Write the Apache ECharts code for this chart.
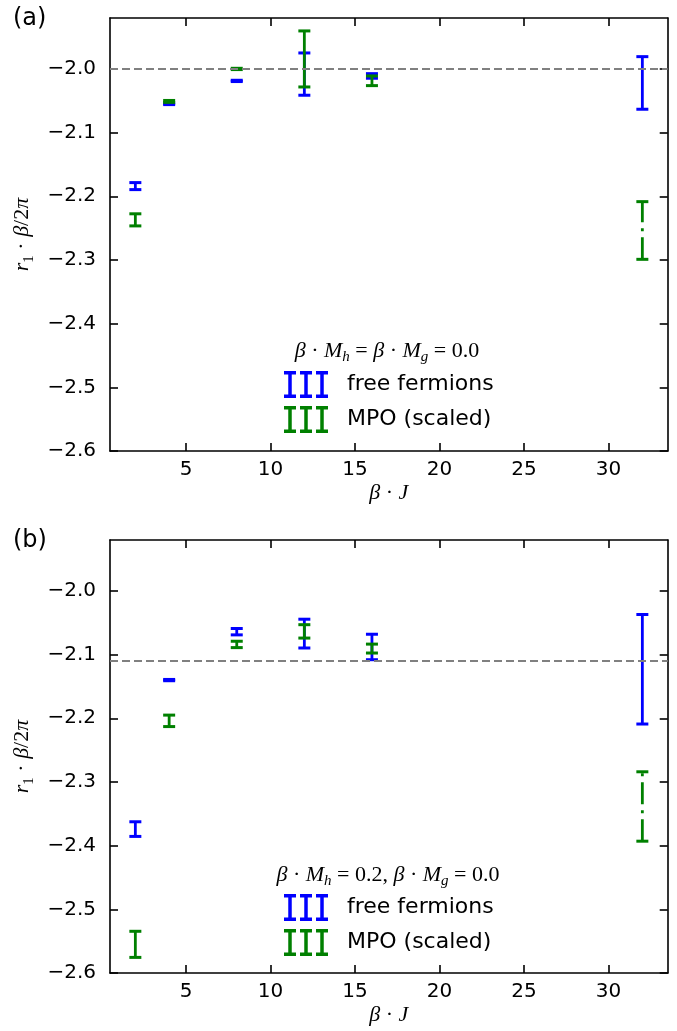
<!DOCTYPE html>
<html>
<head>
<meta charset="utf-8">
<script src="https://cdn.jsdelivr.net/npm/echarts@6/dist/echarts.min.js"></script>
<style>
  html, body { margin: 0; padding: 0; background: #fff; }
  #chart { width: 677px; height: 1031px; }
</style>
</head>
<body>
<div id="chart"></div>
<script>
// β·J values at which the residue was evaluated
const betaJ = [2, 4, 8, 12, 16];
const betaJLong = [32];

// Panel (a): β·M_h = β·M_g = 0.0
const freeA = [-2.184, -2.055, -2.0188, -2.0081, -2.011, -2.022];
const freeAErr = [0.0055, 0.001, 0.001, 0.0332, 0.0036, 0.0413];
const mpoA = [-2.237, -2.051, -2.000, -1.9843, -2.0186];
const mpoAErr = [0.0095, 0.0015, 0.001, 0.044, 0.0076];
const mpoALong = [-2.2537];
const mpoALongErr = [0.0453];
const refA = -2.0;

// Panel (b): β·M_h = 0.2, β·M_g = 0.0
const freeB = [-2.374, -2.140, -2.064, -2.067, -2.088, -2.123];
const freeBErr = [0.0115, 0.001, 0.005, 0.0226, 0.020, 0.086];
const mpoB = [-2.555, -2.204, -2.084, -2.0635, -2.0905];
const mpoBErr = [0.0205, 0.009, 0.005, 0.0105, 0.007];
const mpoBLong = [-2.3385];
const mpoBLongErr = [0.0545];
const refB = -2.108;

// Axis ticks
const xTicks = [5, 10, 15, 20, 25, 30];
const yTicks = [-2.6, -2.5, -2.4, -2.3, -2.2, -2.1, -2.0];

const BLUE = '#0000ff';
const GREEN = '#008000';
const TICK_FONT = 'DejaVu Sans';

function toBars(xs, vals, errs) {
  return vals.map((v, i) => [xs[i], v - errs[i], v + errs[i]]);
}

// Error bar: vertical stem from low to high with horizontal caps
function errorBarRenderer(dash) {
  return function (params, api) {
    const x = api.value(0);
    const pLo = api.coord([x, api.value(1)]);
    const pHi = api.coord([x, api.value(2)]);
    const half = 6;
    const color = api.visual('color');
    const capStyle = { stroke: color, lineWidth: 3, fill: null };
    const stemStyle = { stroke: color, lineWidth: 2.8, fill: null, lineDash: dash || null };
    return {
      type: 'group',
      children: [
        { type: 'line', shape: { x1: pLo[0], y1: pLo[1], x2: pHi[0], y2: pHi[1] }, style: stemStyle },
        { type: 'line', shape: { x1: pLo[0] - half, y1: pLo[1], x2: pLo[0] + half, y2: pLo[1] }, style: capStyle },
        { type: 'line', shape: { x1: pHi[0] - half, y1: pHi[1], x2: pHi[0] + half, y2: pHi[1] }, style: capStyle }
      ]
    };
  };
}

const minusFmt = v => (v < 0 ? '\u2212' : '') + Math.abs(v).toFixed(1);

const serif = (extra) => Object.assign({ fontFamily: 'Liberation Serif', fontWeight: 'normal', color: '#000' }, extra);

function xAxes(gridIndex) {
  const common = {
    type: 'value', gridIndex, min: 0.5, max: 33.5,
    splitLine: { show: false },
    axisLine: { show: true, onZero: false, lineStyle: { color: '#000', width: 1.6 } },
    axisTick: { show: true, inside: true, length: 8, customValues: xTicks, lineStyle: { color: '#000', width: 1.6 } }
  };
  return [
    Object.assign({}, common, {
      position: 'bottom',
      axisLabel: { show: true, customValues: xTicks, color: '#000', fontFamily: TICK_FONT, fontSize: 20, margin: 9 },
      name: '{i|β}{n| · }{i|J}', nameLocation: 'middle', nameGap: 31,
      nameTextStyle: {
        rich: {
          i: serif({ fontStyle: 'italic', fontSize: 22 }),
          n: serif({ fontSize: 22 })
        }
      }
    }),
    Object.assign({}, common, { position: 'top', axisLabel: { show: false } })
  ];
}

function yAxes(gridIndex) {
  const common = {
    type: 'value', gridIndex, min: -2.6, max: -1.92,
    splitLine: { show: false },
    axisLine: { show: true, onZero: false, lineStyle: { color: '#000', width: 1.6 } },
    axisTick: { show: true, inside: true, length: 8, customValues: yTicks, lineStyle: { color: '#000', width: 1.6 } }
  };
  return [
    Object.assign({}, common, {
      position: 'left',
      axisLabel: { show: true, customValues: yTicks, formatter: minusFmt, color: '#000', fontFamily: TICK_FONT, fontSize: 20, margin: 14 },
      name: '{i|r}{s|1}{n| · }{i|β}{n|/2}{i|π}', nameLocation: 'middle', nameGap: 55, nameRotate: 90,
      nameTextStyle: {
        rich: {
          i: serif({ fontStyle: 'italic', fontSize: 22, verticalAlign: 'middle', lineHeight: 28 }),
          n: serif({ fontSize: 22, verticalAlign: 'middle', lineHeight: 28 }),
          s: serif({ fontSize: 15, verticalAlign: 'bottom', lineHeight: 28 })
        }
      }
    }),
    Object.assign({}, common, { position: 'right', axisLabel: { show: false } })
  ];
}

// Three error-bar glyphs used as legend icon
function legendIcon() {
  let p = '';
  [6, 22, 38].forEach(cx => {
    p += `M${cx - 6},0h12v3.5h-12z M${cx - 1.75},3.5h3.5v20h-3.5z M${cx - 6},23.5h12v3.5h-12z `;
  });
  return 'path://' + p.trim();
}
const ICON = legendIcon();

function refLine(xi, yi, value) {
  return {
    type: 'line', xAxisIndex: xi, yAxisIndex: yi, data: [], z: 1, silent: true,
    markLine: {
      silent: true, symbol: 'none', animation: false,
      label: { show: false },
      lineStyle: { color: '#808080', width: 2, type: [8, 4] },
      data: [{ yAxis: value }]
    }
  };
}

function barSeries(name, color, xi, yi, data, dash) {
  return {
    type: 'custom', name, xAxisIndex: xi, yAxisIndex: yi, z: 2,
    itemStyle: { color },
    renderItem: errorBarRenderer(dash),
    encode: { x: 0, y: [1, 2] },
    data
  };
}

const mathRich = {
  i: serif({ fontStyle: 'italic', fontSize: 22, verticalAlign: 'middle', lineHeight: 28 }),
  n: serif({ fontSize: 22, verticalAlign: 'middle', lineHeight: 28 }),
  s: serif({ fontStyle: 'italic', fontSize: 15, verticalAlign: 'bottom', lineHeight: 28 })
};

function legendBlock(top) {
  return {
    orient: 'vertical', left: 284, top, padding: 0, itemWidth: 44, itemHeight: 27, itemGap: 8,
    selectedMode: false,
    textStyle: { fontFamily: 'DejaVu Sans', fontSize: 22, color: '#000', padding: [0, 0, 0, 14] },
    data: [
      { name: 'free fermions', icon: ICON, itemStyle: { color: BLUE } },
      { name: 'MPO (scaled)', icon: ICON, itemStyle: { color: GREEN } }
    ]
  };
}

const chart = echarts.init(document.getElementById('chart'), null, { renderer: 'canvas' });
chart.setOption({
  backgroundColor: '#fff',
  animation: false,
  title: [
    { text: '(a)', left: 8, top: 2, textStyle: { fontFamily: 'DejaVu Sans', fontWeight: 'normal', fontSize: 24, color: '#000' } },
    { text: '(b)', left: 8, top: 524, textStyle: { fontFamily: 'DejaVu Sans', fontWeight: 'normal', fontSize: 24, color: '#000' } },
    {
      text: '{i|β}{n| · }{i|M}{s|h}{n| = }{i|β}{n| · }{i|M}{s|g}{n| = 0.0}',
      left: 387, top: 337, textAlign: 'center', padding: 0,
      textStyle: { fontWeight: 'normal', rich: mathRich }
    },
    {
      text: '{i|β}{n| · }{i|M}{s|h}{n| = 0.2, }{i|β}{n| · }{i|M}{s|g}{n| = 0.0}',
      left: 388, top: 861, textAlign: 'center', padding: 0,
      textStyle: { fontWeight: 'normal', rich: mathRich }
    }
  ],
  legend: [legendBlock(371), legendBlock(894)],
  grid: [
    { left: 110, top: 18, right: 9.3, height: 433 },
    { left: 110, top: 540, right: 9.3, height: 433 }
  ],
  xAxis: [...xAxes(0), ...xAxes(1)],
  yAxis: [...yAxes(0), ...yAxes(1)],
  series: [
    refLine(0, 0, refA),
    barSeries('free fermions', BLUE, 0, 0, toBars(betaJ.concat(betaJLong), freeA, freeAErr)),
    barSeries('MPO (scaled)', GREEN, 0, 0, toBars(betaJ, mpoA, mpoAErr)),
    barSeries('MPO (scaled)', GREEN, 0, 0, toBars(betaJLong, mpoALong, mpoALongErr), [22, 6, 3, 6]),

    refLine(2, 2, refB),
    barSeries('free fermions', BLUE, 2, 2, toBars(betaJ.concat(betaJLong), freeB, freeBErr)),
    barSeries('MPO (scaled)', GREEN, 2, 2, toBars(betaJ, mpoB, mpoBErr)),
    barSeries('MPO (scaled)', GREEN, 2, 2, toBars(betaJLong, mpoBLong, mpoBLongErr), [22, 6, 3, 6])
  ]
});
</script>
</body>
</html>
